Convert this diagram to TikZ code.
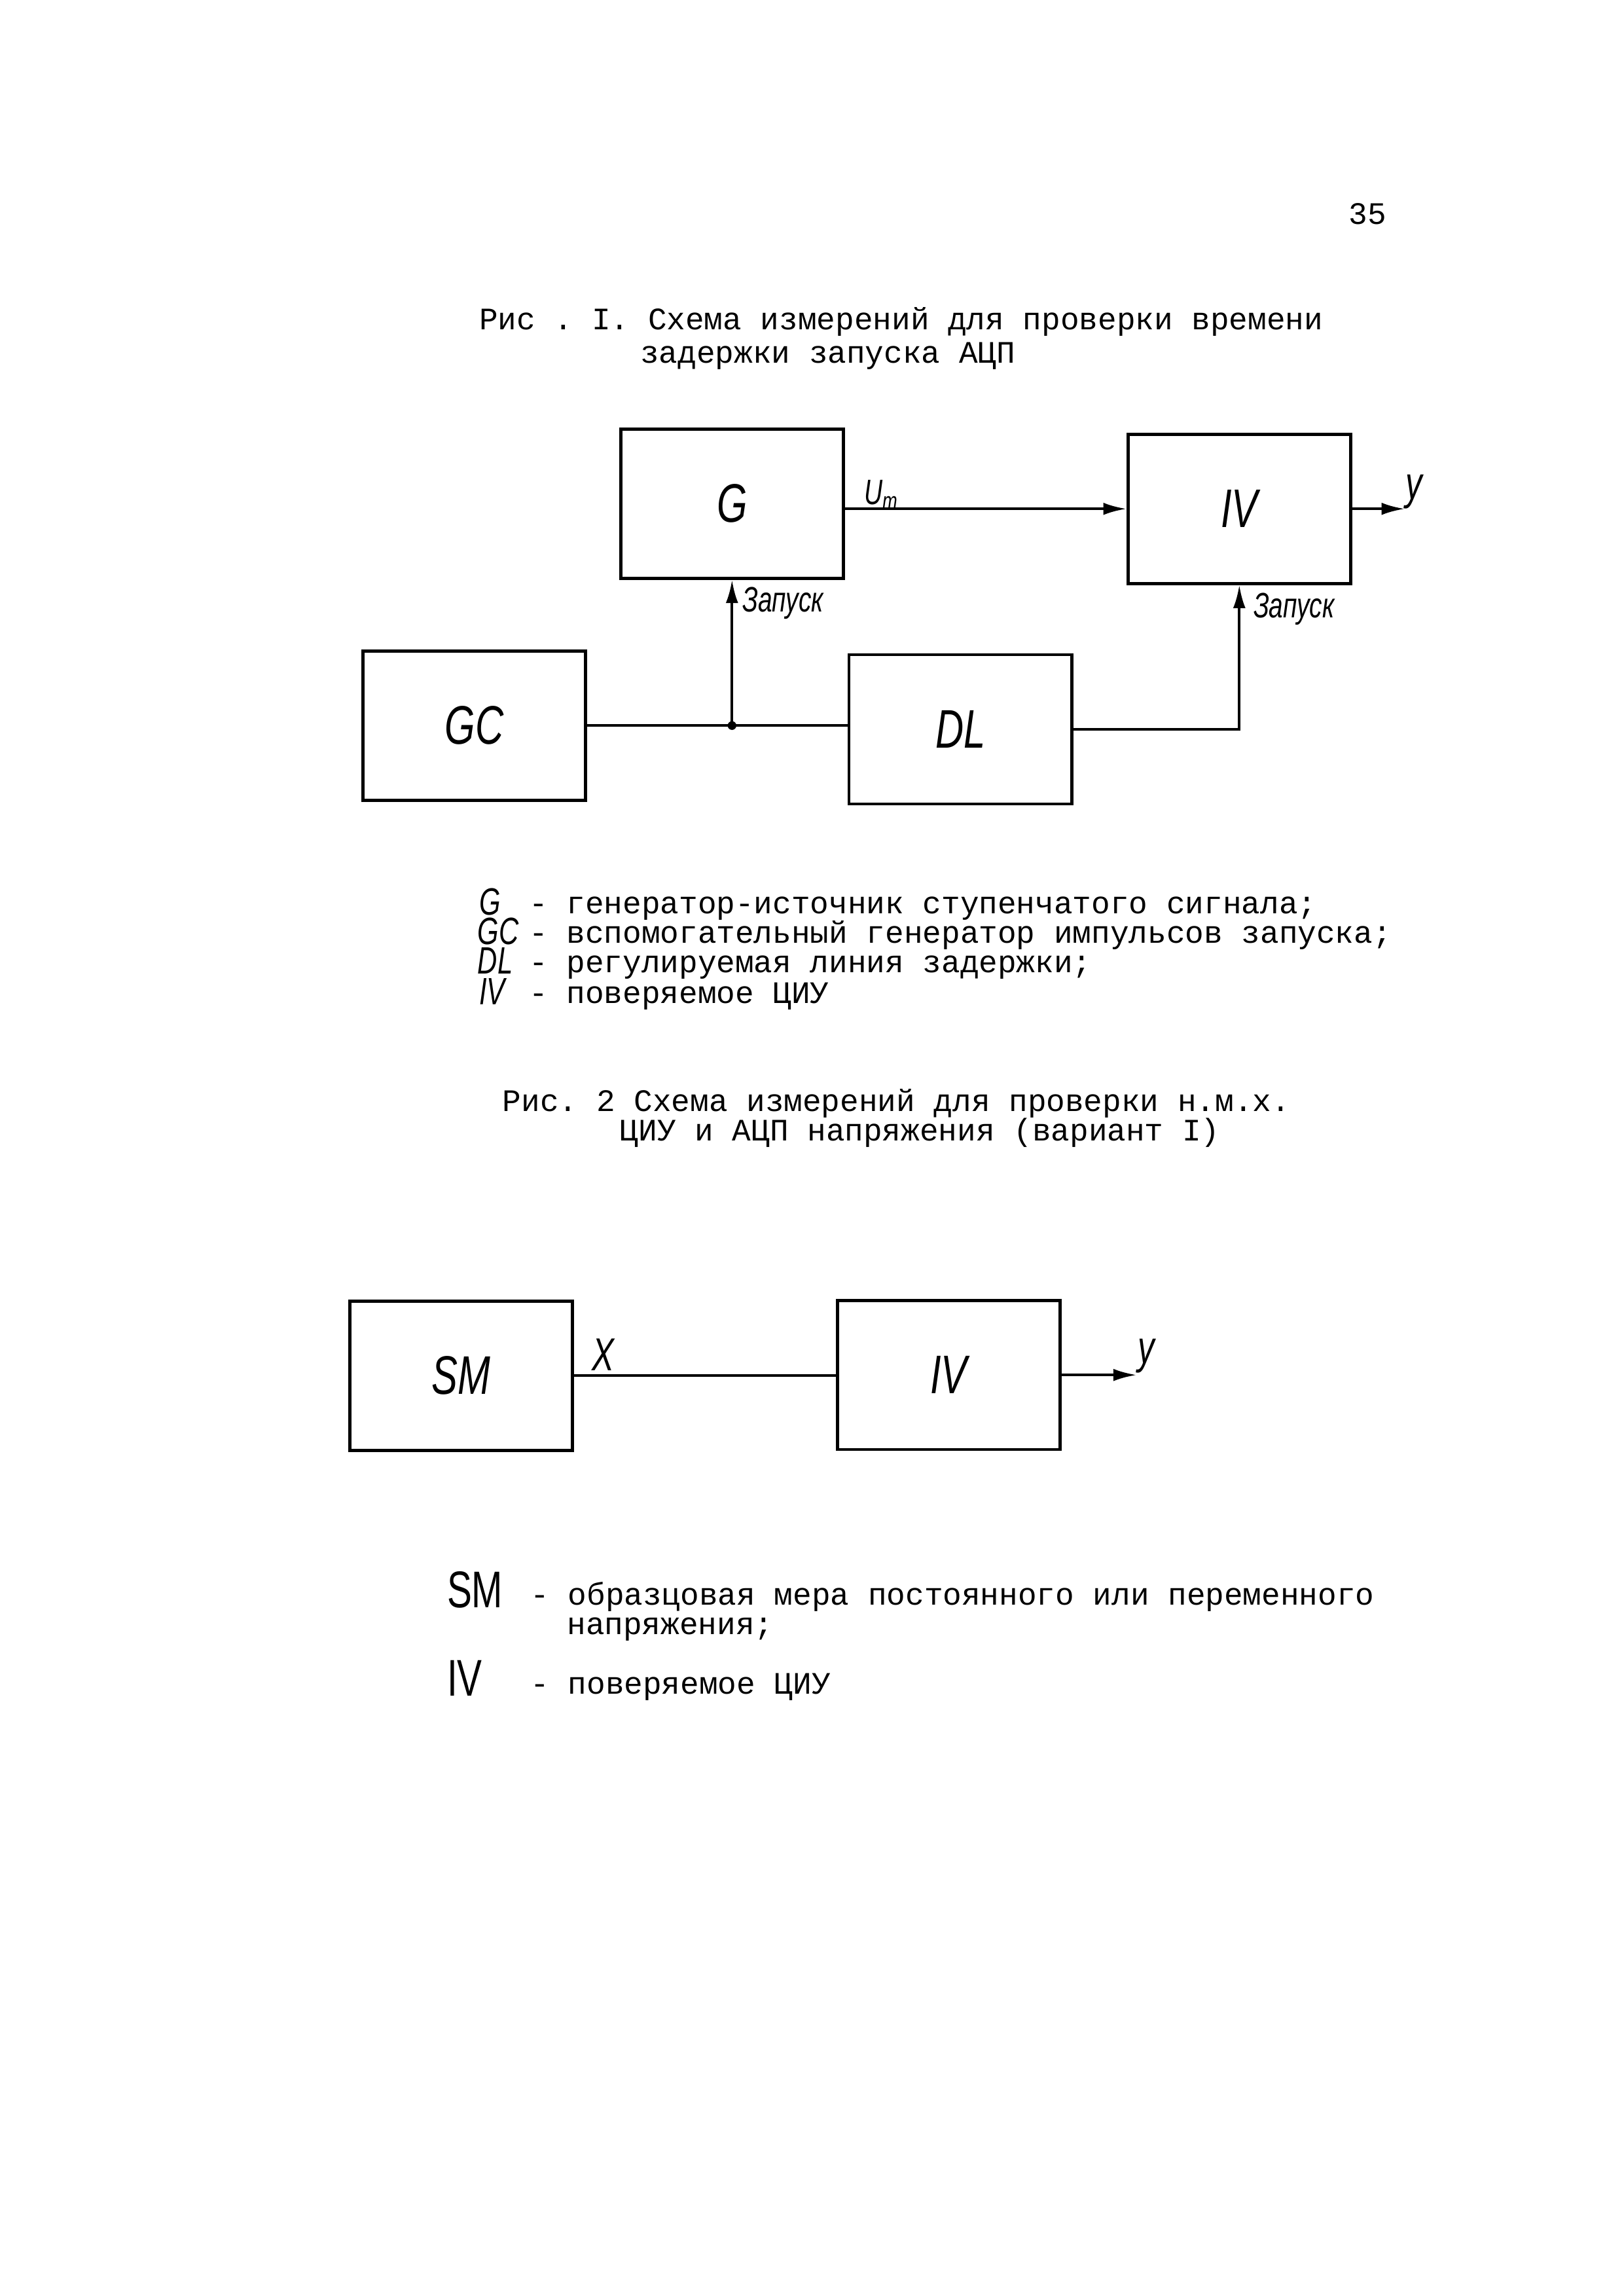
\documentclass[tikz,border=0pt]{standalone}
\usepackage{fontspec}
\setmainfont{Liberation Serif}
\setmonofont{Liberation Mono}
\newfontfamily\handfont[FakeStretch=0.72]{Liberation Sans}
\usetikzlibrary{arrows.meta, positioning}

\begin{document}
\begin{tikzpicture}[x=0.018936cm, y=-0.018936cm,
    blk/.style={draw, line width=1.1pt, minimum width=2.88cm, minimum height=1.93cm,
        font=\handfont\itshape\fontsize{20}{20}\selectfont},
    sig/.style={line width=1pt},
    arr/.style={sig, -{Latex[length=3mm, width=1.6mm]}},
    tw/.style={font=\ttfamily\fontsize{11.5}{13}\selectfont, anchor=base west, inner sep=0pt},
    lbl/.style={font=\handfont\itshape\fontsize{13}{13}\selectfont, inner sep=1pt},
    sym/.style={font=\handfont\itshape\fontsize{14}{14}\selectfont, anchor=base west, inner sep=0pt},
    symup/.style={font=\handfont\fontsize{19}{19}\selectfont, anchor=base west, inner sep=0pt}]
    \useasboundingbox (0,0) rectangle (1109,1568);

    % Page number and first caption
    \node[tw] (page) at (921,153) {35};
    \node[tw] (cap1a) at (327,225) {Рис . I. Схема измерений для проверки времени};
    \node[tw] (cap1b) at (437,248) {задержки запуска АЦП};

    % Blocks of fig. 1
    \node[blk] (G) at (500,344) {G};
    \node[blk] (IVa) at (846.5,347.5) {IV};
    \node[blk] (GC) at (324,495.5) {GC};
    \node[blk] (DL) at (656,498) {DL};

    % Connections of fig. 1
    \coordinate (split) at (G.south |- GC.east);
    \coordinate (bend) at (IVa.south |- DL.east);
    \coordinate[right=0.68cm of IVa.east] (outa);
    \draw[sig] (GC.east) -- (GC.east -| DL.west);
    \draw[arr] (split) -- (G.south);
    \fill (split) circle[radius=1.6pt];
    \draw[arr] (DL.east) -- (bend) -- (IVa.south);
    \draw[arr] (G.east |- IVa.west) -- (IVa.west);
    \draw[arr] (IVa.east) -- (outa);

    % Signal labels
    \node[lbl, anchor=west] (um) at (588,338) {U\textsubscript{m}};
    \node[lbl, anchor=west] (zap1) at (505,412) {Запуск};
    \node[lbl, anchor=west] (zap2) at (854,416) {Запуск};
    \node[lbl, font=\handfont\itshape\fontsize{17}{17}\selectfont] (ya) at (966,336) {y};

    % Legend of fig. 1
    \node[sym] (lg1) at (327,625) {G};
    \node[tw] (lt1) at (361,624) {- генератор-источник ступенчатого сигнала;};
    \node[sym] (lg2) at (326,645) {GC};
    \node[tw] (lt2) at (361,644) {- вспомогательный генератор импульсов запуска;};
    \node[sym] (lg3) at (326,665) {DL};
    \node[tw] (lt3) at (361,664) {- регулируемая линия задержки;};
    \node[sym] (lg4) at (327,686) {IV};
    \node[tw] (lt4) at (361,685) {- поверяемое ЦИУ};

    % Second caption
    \node[tw] (cap2a) at (343,759) {Рис. 2 Схема измерений для проверки н.м.х.};
    \node[tw] (cap2b) at (423,779) {ЦИУ и АЦП напряжения (вариант I)};

    % Blocks of fig. 2
    \node[blk] (SM) at (315,939.5) {SM};
    \node[blk] (IVb) at (648,939) {IV};
    \coordinate[right=0.97cm of IVb.east] (outb);
    \draw[sig] (SM.east) -- (SM.east -| IVb.west);
    \draw[arr] (IVb.east) -- (outb);
    \node[lbl, font=\handfont\itshape\fontsize{17}{17}\selectfont] (xin) at (412,925) {X};
    \node[lbl, font=\handfont\itshape\fontsize{17}{17}\selectfont] (yb) at (783,926) {y};

    % Legend of fig. 2
    \node[symup] (lg5) at (305,1098) {SM};
    \node[tw] (lt5) at (362,1096) {- образцовая мера постоянного или переменного};
    \node[tw] (lt5b) at (387,1116) {напряжения;};
    \node[symup] (lg6) at (305,1158) {IV};
    \node[tw] (lt6) at (362,1157) {- поверяемое ЦИУ};
\end{tikzpicture}
\end{document}
